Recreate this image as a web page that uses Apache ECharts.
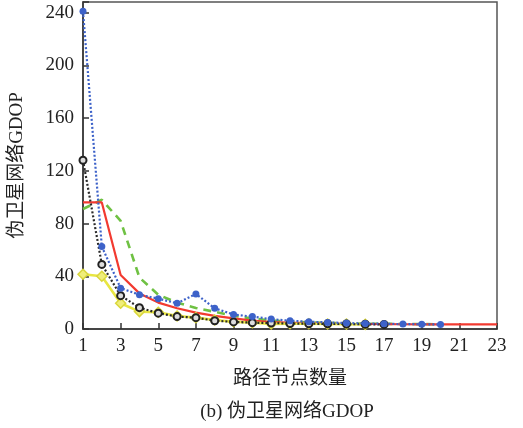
<!DOCTYPE html>
<html>
<head>
<meta charset="utf-8">
<script src="https://cdn.jsdelivr.net/npm/echarts@6/dist/echarts.min.js"></script>
<style>
  html, body { margin: 0; padding: 0; background: #fff; }
  #chart { width: 523px; height: 428px; }
</style>
</head>
<body>
<div id="chart"></div>
<script>
// Path node count (x) and pseudolite network GDOP for five schemes
const nodeCounts = [1,2,3,4,5,6,7,8,9,10,11,12,13,14,15,16,17,18,19,20,21,22,23];
const blueGdop   = [241,62.5,31,26,23,19.5,26.6,15.7,11,9.4,7.5,6.3,5.5,5,4.5,4.2,4,3.7,3.6,3.5];
const blackGdop  = [128,49,25.3,16.2,12,9.4,8.6,6.3,5.4,4.8,4.5,4.2,4,3.9,3.8,3.6,3.5];
const redGdop    = [96,96,41,27,20,15.7,12.4,10,8,6.3,5.3,4.8,4.4,4.1,3.9,3.8,3.7,3.6,3.5,3.5,3.5,3.5,3.5];
const greenGdop  = [91,98,82,39,26,20,16,13,10,8,6.5,5.5,5,4.6,4.3,4,3.9,3.8,3.7,3.6];
const yellowGdop = [41.5,40,19.5,13.2,12.7,9.9,8.6,6.8,5.5,4.8,3.9,4,4,3.8,3.7,3.5];
const yTicks = [0,40,80,120,160,200,240];

const serif = '"Liberation Serif", "Noto Sans CJK SC", serif';

function pairs(vals) {
  return vals.map((v, i) => [nodeCounts[i], v]);
}

const chart = echarts.init(document.getElementById('chart'), null, { renderer: 'canvas' });

chart.setOption({
  animation: false,
  backgroundColor: '#fff',
  grid: {
    left: 81, right: 26, top: 2, bottom: 99,
    show: true, borderColor: '#555', borderWidth: 1.5, backgroundColor: 'transparent'
  },
  xAxis: {
    type: 'value',
    min: 1, max: 23, interval: 2,
    name: '路径节点数量',
    nameLocation: 'middle',
    nameGap: 41,
    nameTextStyle: { fontFamily: serif, fontSize: 19, color: '#222' },
    axisLine: { show: true, lineStyle: { color: '#333', width: 1.5 } },
    axisTick: { show: true, inside: true, length: 6, lineStyle: { color: '#333', width: 1.5 } },
    axisLabel: { fontFamily: serif, fontSize: 19, color: '#222', margin: 8 },
    splitLine: { show: false }
  },
  yAxis: {
    type: 'value',
    min: 0, max: 248, interval: 40,
    name: '伪卫星网络GDOP',
    nameLocation: 'middle',
    nameGap: 56,
    nameRotate: 90,
    nameTextStyle: { fontFamily: serif, fontSize: 19, color: '#222' },
    axisLine: { show: true, lineStyle: { color: '#333', width: 1.5 } },
    axisTick: { show: true, inside: true, length: 6, lineStyle: { color: '#333', width: 1.5 } },
    axisLabel: {
      fontFamily: serif, fontSize: 19, color: '#222', margin: 9,
      formatter: v => (yTicks.indexOf(v) >= 0 ? String(v) : '')
    },
    splitLine: { show: false }
  },
  series: [
    {
      type: 'line', data: pairs(redGdop), symbol: 'none',
      lineStyle: { color: '#f23a30', width: 2.2, type: 'solid' }, z: 3
    },
    {
      type: 'line', data: pairs(greenGdop), symbol: 'none',
      lineStyle: { color: '#6fc143', width: 2.6, type: [8, 6] }, z: 2
    },
    {
      type: 'line', data: pairs(yellowGdop), symbol: 'diamond', symbolSize: 10,
      lineStyle: { color: '#e8e642', width: 2.6 },
      itemStyle: { color: '#f0ee7a', borderColor: '#d9d63a', borderWidth: 1.5 }, z: 4
    },
    {
      type: 'line', data: pairs(blackGdop), symbol: 'circle', symbolSize: 7,
      lineStyle: { color: '#2a2a2a', width: 2.2, type: [2, 2] },
      itemStyle: { color: '#ddd', borderColor: '#222', borderWidth: 2 }, z: 5
    },
    {
      type: 'line', data: pairs(blueGdop), symbol: 'circle', symbolSize: 7,
      lineStyle: { color: '#3d62c9', width: 2.2, type: [2, 2] },
      itemStyle: { color: '#3d62c9', borderColor: '#3d62c9', borderWidth: 0 }, z: 6
    }
  ],
  graphic: [
    {
      type: 'text', x: 287, y: 412,
      style: {
        text: '(b) 伪卫星网络GDOP',
        font: '19px ' + serif,
        fill: '#222',
        textAlign: 'center',
        textVerticalAlign: 'middle'
      }
    }
  ]
});
</script>
</body>
</html>
